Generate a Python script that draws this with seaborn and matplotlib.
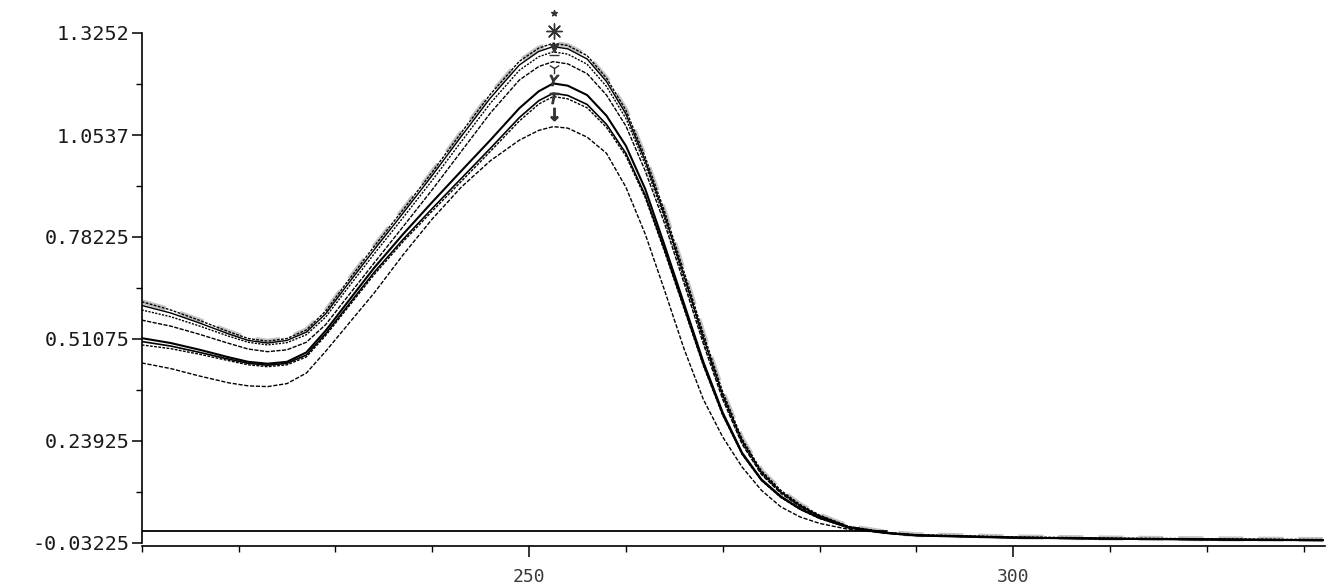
import matplotlib
matplotlib.use("Agg")
import matplotlib.pyplot as plt
import seaborn as sns
import pandas as pd
from matplotlib.ticker import FixedLocator

# ---------------- data ----------------
wavelength = [210, 213, 216, 219, 221, 223, 225, 227, 229, 231, 234, 237, 240, 243, 246, 249,
              251, 252.5, 254, 256, 258, 260, 262, 264, 266, 268, 270, 272, 274, 276, 278, 280,
              283, 287, 290, 300, 310, 320, 332]

curve_a = [0.610, 0.588, 0.560, 0.530, 0.512, 0.505, 0.512, 0.535, 0.585, 0.655, 0.757, 0.855, 0.955, 1.060, 1.162, 1.250,
           1.285, 1.298, 1.292, 1.265, 1.205, 1.120, 0.995, 0.850, 0.690, 0.525, 0.370, 0.245, 0.160, 0.108, 0.070, 0.042,
           0.012, -0.004, -0.010, -0.016, -0.019, -0.021, -0.023]
curve_b = [0.600, 0.580, 0.553, 0.524, 0.507, 0.500, 0.507, 0.529, 0.578, 0.647, 0.748, 0.846, 0.946, 1.050, 1.152, 1.240,
           1.276, 1.289, 1.283, 1.256, 1.196, 1.110, 0.985, 0.840, 0.680, 0.515, 0.362, 0.240, 0.156, 0.104, 0.067, 0.040,
           0.011, -0.005, -0.011, -0.017, -0.020, -0.022, -0.024]
curve_c = [0.588, 0.570, 0.545, 0.518, 0.502, 0.495, 0.501, 0.522, 0.569, 0.637, 0.737, 0.834, 0.933, 1.036, 1.138, 1.226,
           1.262, 1.275, 1.269, 1.242, 1.183, 1.098, 0.975, 0.832, 0.672, 0.508, 0.357, 0.236, 0.153, 0.102, 0.066, 0.039,
           0.010, -0.006, -0.012, -0.018, -0.021, -0.023, -0.025]
curve_d = [0.561, 0.545, 0.523, 0.499, 0.484, 0.477, 0.482, 0.502, 0.549, 0.615, 0.713, 0.810, 0.908, 1.010, 1.112, 1.200,
           1.236, 1.249, 1.243, 1.217, 1.160, 1.078, 0.958, 0.818, 0.660, 0.498, 0.350, 0.231, 0.150, 0.100, 0.064, 0.038,
           0.010, -0.006, -0.012, -0.018, -0.021, -0.023, -0.025]
curve_e = [0.513, 0.500, 0.482, 0.462, 0.450, 0.445, 0.450, 0.475, 0.533, 0.600, 0.700, 0.790, 0.875, 0.958, 1.040, 1.125,
           1.170, 1.191, 1.185, 1.160, 1.105, 1.025, 0.910, 0.760, 0.605, 0.450, 0.315, 0.208, 0.137, 0.092, 0.059, 0.035,
           0.009, -0.006, -0.012, -0.018, -0.021, -0.023, -0.025]
curve_f = [0.504, 0.492, 0.475, 0.457, 0.446, 0.441, 0.446, 0.468, 0.525, 0.590, 0.688, 0.776, 0.858, 0.938, 1.018, 1.100,
           1.145, 1.165, 1.159, 1.135, 1.082, 1.005, 0.893, 0.748, 0.596, 0.443, 0.310, 0.205, 0.135, 0.090, 0.058, 0.034,
           0.009, -0.006, -0.012, -0.018, -0.021, -0.023, -0.025]
curve_g = [0.495, 0.485, 0.470, 0.453, 0.442, 0.437, 0.442, 0.463, 0.520, 0.585, 0.682, 0.770, 0.851, 0.930, 1.010, 1.091,
           1.136, 1.156, 1.150, 1.126, 1.074, 0.998, 0.887, 0.743, 0.592, 0.440, 0.308, 0.204, 0.134, 0.089, 0.057, 0.033,
           0.008, -0.006, -0.012, -0.018, -0.021, -0.023, -0.025]
curve_h = [0.447, 0.432, 0.412, 0.394, 0.386, 0.384, 0.392, 0.420, 0.478, 0.540, 0.633, 0.735, 0.830, 0.915, 0.985, 1.040,
           1.066, 1.076, 1.072, 1.048, 1.005, 0.915, 0.790, 0.640, 0.485, 0.350, 0.250, 0.170, 0.108, 0.064, 0.037, 0.020,
           0.004, -0.006, -0.012, -0.018, -0.021, -0.023, -0.025]

curve_names = ["A", "B", "C", "D", "E", "F", "G", "H"]
curves = [curve_a, curve_b, curve_c, curve_d, curve_e, curve_f, curve_g, curve_h]

baseline_wl = [210, 287]
baseline_val = [0.0, 0.0]

y_ticks = [-0.03225, 0.23925, 0.51075, 0.78225, 1.0537, 1.3252]
y_tick_labels = ["-0.03225", "0.23925", "0.51075", "0.78225", "1.0537", "1.3252"]
x_ticks = [250, 300]
x_tick_labels = ["250", "300"]
x_minor = [210, 220, 230, 240, 260, 270, 280, 290, 310, 320, 330]

# peak annotation symbols printed by the instrument above each peak
peak_wl = 252.6
marker_levels = [1.378, 1.330, 1.284, 1.267, 1.232, 1.200, 1.152, 1.110]
marker_shapes = ["*", (8, 2, 0), "v", "_", "1", "$Y$", "$T$", "$\\downarrow$"]
marker_sizes = [18, 120, 30, 60, 70, 55, 55, 80]

# ---------------- styling ----------------
sns.set_theme(style="white")
plt.rcParams["font.family"] = ["DejaVu Sans Mono", "DejaVu Sans"]

fig = plt.figure(figsize=(13.31, 5.88), dpi=100)
ax = fig.add_axes([141.7 / 1331, 45 / 588, (1325 - 141.7) / 1331, 510 / 588])
ax.set_facecolor("white")

long_df = pd.DataFrame({
    "wl": wavelength * len(curves),
    "abs": sum(curves, []),
    "curve": [n for n in curve_names for _ in wavelength],
})

# grey highlight (printed colour trace) under the top curve
sns.lineplot(data=long_df[long_df.curve == "A"], x="wl", y="abs", ax=ax, color="#c4c4c4",
             lw=3.6, legend=False, estimator=None, sort=False,
             linestyle=(0, (5, 3)), zorder=1)

styles = {
    "A": dict(lw=1.0, ls=(0, (2, 1))),
    "B": dict(lw=1.0, ls="-"),
    "C": dict(lw=1.0, ls=(0, (1.5, 1))),
    "D": dict(lw=1.0, ls=(0, (3, 1))),
    "E": dict(lw=1.5, ls="-"),
    "F": dict(lw=1.2, ls="-"),
    "G": dict(lw=1.0, ls=(0, (2, 1))),
    "H": dict(lw=1.0, ls=(0, (3, 1.2))),
}
for name in curve_names:
    sub = long_df[long_df.curve == name]
    st = styles[name]
    sns.lineplot(data=sub, x="wl", y="abs", ax=ax, color="black", lw=st["lw"],
                 linestyle=st["ls"], legend=False, estimator=None, sort=False, zorder=3)

# baseline
sns.lineplot(x=baseline_wl, y=baseline_val, ax=ax, color="black", lw=1.3, legend=False, zorder=2)

# peak symbols
for lvl, shp, sz in zip(marker_levels, marker_shapes, marker_sizes):
    ax.scatter([peak_wl], [lvl], marker=shp, s=sz, color="#333333", linewidths=1.0,
               clip_on=False, zorder=5)

ax.set_xlim(210, 332.2)
ax.set_ylim(y_ticks[0], y_ticks[-1])

ax.set_yticks(y_ticks)
ax.set_yticklabels(y_tick_labels)
mids = [(a + b) / 2 for a, b in zip(y_ticks[:-1], y_ticks[1:])]
ax.yaxis.set_minor_locator(FixedLocator(mids))
ax.set_xticks(x_ticks)
ax.set_xticklabels(x_tick_labels)
ax.xaxis.set_minor_locator(FixedLocator(x_minor))

ax.tick_params(axis="y", which="major", direction="out", length=7, width=1.1,
               color="black", labelsize=14.5, labelcolor="#1a1a1a", pad=2, left=True)
ax.tick_params(axis="y", which="minor", direction="out", length=4, width=1.0, color="black", left=True)
ax.tick_params(axis="x", which="major", direction="out", length=8, width=1.1,
               color="black", labelsize=13, labelcolor="#3a3a3a", pad=8, bottom=True)
ax.tick_params(axis="x", which="minor", direction="out", length=4, width=1.0, color="black", bottom=True)

for side in ["top", "right"]:
    ax.spines[side].set_visible(False)
for side in ["left", "bottom"]:
    ax.spines[side].set_color("black")
    ax.spines[side].set_linewidth(1.2)
ax.spines["bottom"].set_position(("outward", 2))

ax.set_xlabel("")
ax.set_ylabel("")
ax.grid(False)

fig.savefig("out.png", dpi=100, facecolor="white")
